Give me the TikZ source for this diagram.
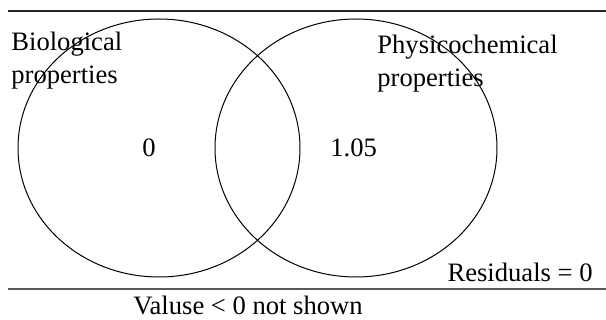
\documentclass[tikz,border=0pt]{standalone}
\usepackage{fontspec}
\setmainfont{Liberation Serif}
\usetikzlibrary{shapes.geometric}
\begin{document}
\begin{tikzpicture}[
    x=0.5pt, y=-0.5pt,
    every node/.style={font=\fontsize{13.3}{16.5}\selectfont, inner sep=0pt, align=left},
    setcirc/.style={ellipse, draw=black, line width=0.5pt,
                    minimum width=141pt, minimum height=129pt},
    toprule/.style={line width=0.65pt, black!85},
    botrule/.style={line width=1pt, black!65},
]
    \useasboundingbox (0,0) rectangle (606,320);
    \draw[toprule] (8,11) -- (606,11);
    \node[setcirc] (bio) at (159,148) {};
    \node[setcirc] (phys) at (356,148) {};
    \node[anchor=base west] (biolab) at (11,84) {Biological\\properties};
    \node[anchor=base west] (physlab) at (377,87) {Physicochemical\\properties};
    \node[anchor=base] (bioval) at (149,157) {0};
    \node[anchor=base west] (physval) at (330,157) {1.05};
    \node[anchor=base east] (resid) at (593,282) {Residuals = 0};
    \draw[botrule] (8,289) -- (606,289);
    \node[anchor=base west] (note) at (133,315) {Valuse < 0 not shown};
\end{tikzpicture}
\end{document}
